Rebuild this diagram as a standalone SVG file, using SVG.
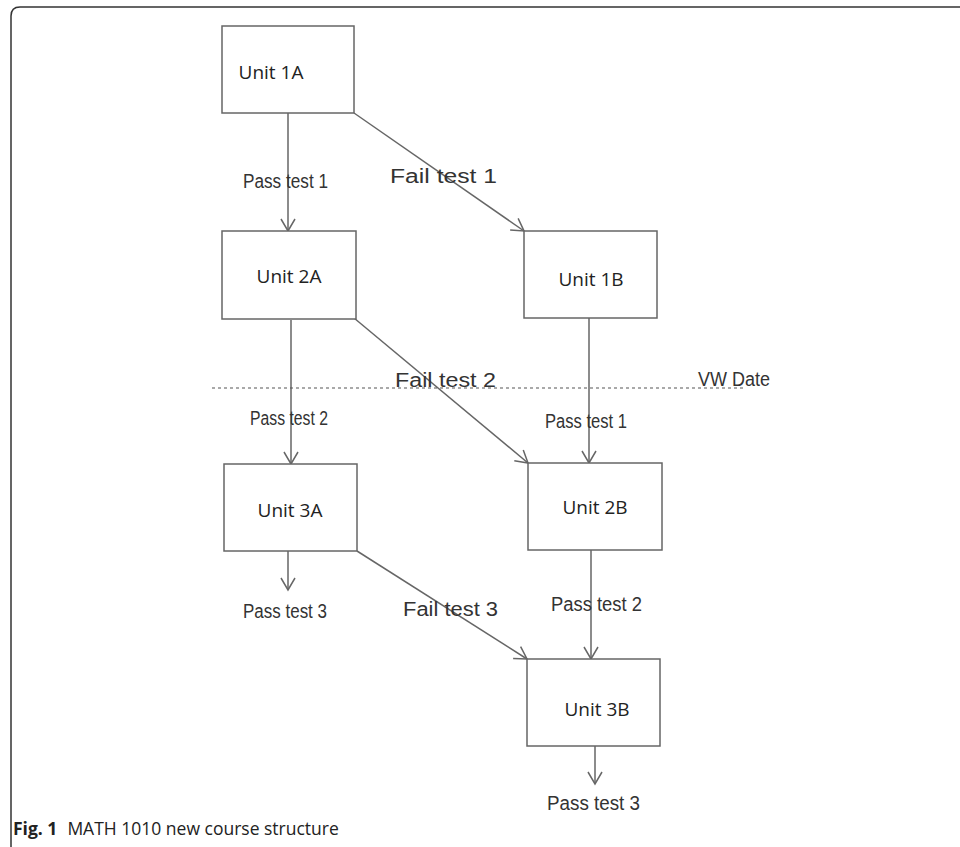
<svg xmlns="http://www.w3.org/2000/svg" width="960" height="847" viewBox="0 0 960 847">
<style>
.box{fill:#fff;stroke:#666;stroke-width:1.5}
.edge{fill:none;stroke:#666;stroke-width:1.5}
.nt{font-family:"Open Sans","Liberation Sans",sans-serif;font-size:19px;fill:#222;text-anchor:middle}
.lb{font-family:"Liberation Sans",sans-serif;font-size:20px;fill:#333}
.frame{fill:none;stroke:#333;stroke-width:1.5}
</style>
<defs>
<marker id="arr" viewBox="-14 -8 16 16" refX="0" refY="0" markerWidth="16" markerHeight="16" markerUnits="userSpaceOnUse" orient="auto">
<path d="M-12,-7 L0,0 L-12,7" fill="none" stroke="#666" stroke-width="1.5"/>
</marker>
</defs>
<rect width="960" height="847" fill="#fff"/>
<path class="frame" d="M11,847 V16 Q11,7 20,7 H960"/>
<g id="connectors">
<line class="edge" x1="288" y1="113" x2="288" y2="231" marker-end="url(#arr)"/>
<line class="edge" x1="354" y1="113" x2="524" y2="231" marker-end="url(#arr)"/>
<line class="edge" x1="589" y1="318" x2="589" y2="463" marker-end="url(#arr)"/>
<line class="edge" x1="291" y1="320" x2="291" y2="464" marker-end="url(#arr)"/>
<line class="edge" x1="354" y1="318" x2="528" y2="463" marker-end="url(#arr)"/>
<line class="edge" x1="288" y1="551" x2="288" y2="590" marker-end="url(#arr)"/>
<line class="edge" x1="357" y1="551" x2="527" y2="659" marker-end="url(#arr)"/>
<line class="edge" x1="591" y1="550" x2="591" y2="659" marker-end="url(#arr)"/>
<line class="edge" x1="595" y1="746" x2="595" y2="784" marker-end="url(#arr)"/>
<line x1="212" y1="388" x2="745" y2="388" stroke="#555" stroke-width="1.2" stroke-dasharray="3,3"/>
<text class="lb" x="243" y="188" textLength="85" lengthAdjust="spacingAndGlyphs">Pass test 1</text>
<text class="lb" x="390" y="183" font-size="22" textLength="107" lengthAdjust="spacingAndGlyphs">Fail test 1</text>
<text class="lb" x="395" y="387" font-size="21" textLength="101" lengthAdjust="spacingAndGlyphs">Fail test 2</text>
<text class="lb" x="698" y="386" textLength="72" lengthAdjust="spacingAndGlyphs">VW Date</text>
<text class="lb" x="250" y="425" textLength="78" lengthAdjust="spacingAndGlyphs">Pass test 2</text>
<text class="lb" x="545" y="428" font-size="22" textLength="82" lengthAdjust="spacingAndGlyphs">Pass test 1</text>
<text class="lb" x="243" y="618" font-size="22" textLength="84" lengthAdjust="spacingAndGlyphs">Pass test 3</text>
<text class="lb" x="403" y="616" font-size="21" textLength="95" lengthAdjust="spacingAndGlyphs">Fail test 3</text>
<text class="lb" x="551" y="611" textLength="91" lengthAdjust="spacingAndGlyphs">Pass test 2</text>
<text class="lb" x="547" y="810" textLength="93" lengthAdjust="spacingAndGlyphs">Pass test 3</text>
</g>
<g id="unit1a"><rect class="box" x="222" y="26" width="132" height="87"/><text class="nt" x="271" y="79">Unit 1A</text></g>
<g id="unit2a"><rect class="box" x="222" y="231" width="134" height="88"/><text class="nt" x="289" y="283">Unit 2A</text></g>
<g id="unit1b"><rect class="box" x="524" y="231" width="133" height="87"/><text class="nt" x="591" y="286">Unit 1B</text></g>
<g id="unit3a"><rect class="box" x="224" y="464" width="133" height="87"/><text class="nt" x="290" y="517">Unit 3A</text></g>
<g id="unit2b"><rect class="box" x="528" y="463" width="134" height="87"/><text class="nt" x="595" y="514">Unit 2B</text></g>
<g id="unit3b"><rect class="box" x="527" y="659" width="133" height="87"/><text class="nt" x="597" y="716">Unit 3B</text></g>
<text x="13" y="835" font-family="Open Sans,Liberation Sans,sans-serif" font-size="17.5" fill="#222"><tspan font-weight="bold">Fig. 1</tspan><tspan dx="10">MATH 1010 new course structure</tspan></text>
</svg>
